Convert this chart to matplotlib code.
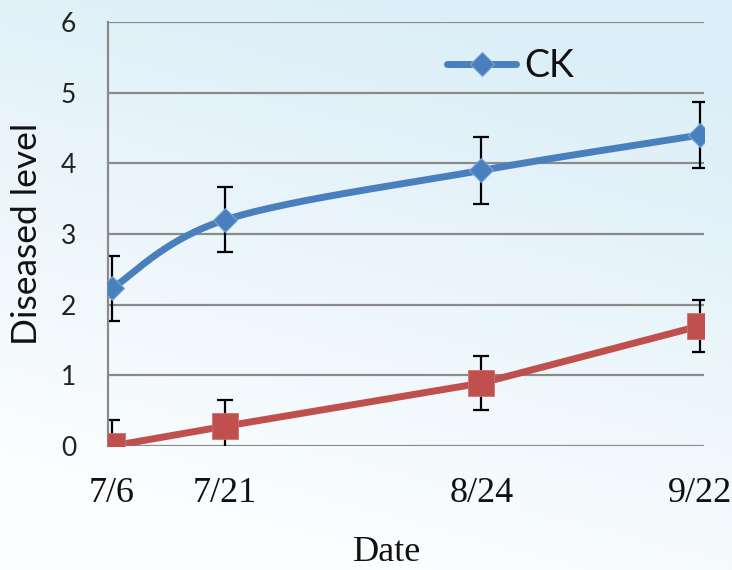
import numpy as np
import pandas as pd
import matplotlib
matplotlib.use("Agg")
import matplotlib.pyplot as plt

# ---- data ----
dates = ["7/6", "7/21", "8/24", "9/22"]
ck_values = [2.23, 3.20, 3.90, 4.40]
ck_errors = [0.46, 0.46, 0.47, 0.47]
trt_values = [0.00, 0.28, 0.89, 1.70]
trt_errors = [0.37, 0.37, 0.38, 0.37]
y_ticks = [0, 1, 2, 3, 4, 5, 6]

# convert dates to day offsets from first date
d = pd.to_datetime(["2020/" + s for s in dates], format="%Y/%m/%d")
x = np.array([(t - d[0]).days for t in d], dtype=float)


def excel_smooth(xs, ys, n=60):
    """Excel-like smoothed line: cubic Bezier segments with Catmull-Rom control points."""
    P = np.column_stack([xs, ys])
    pts = [P[0]] + list(P) + [P[-1]]
    out = []
    for i in range(1, len(pts) - 2):
        p0, p1, p2, p3 = pts[i - 1], pts[i], pts[i + 1], pts[i + 2]
        c1 = p1 + (p2 - p0) / 6.0
        c2 = p2 - (p3 - p1) / 6.0
        t = np.linspace(0, 1, n)[:, None]
        seg = ((1 - t) ** 3) * p1 + 3 * ((1 - t) ** 2) * t * c1 + 3 * (1 - t) * t ** 2 * c2 + t ** 3 * p2
        out.append(seg if i == 1 else seg[1:])
    out = np.vstack(out)
    return out[:, 0], out[:, 1]


W, H = 732, 570
fig = plt.figure(figsize=(W / 100, H / 100), dpi=100)

# background gradient (decorative)
bg = fig.add_axes([0, 0, 1, 1], zorder=-10)
gx, gy = np.meshgrid(np.linspace(0, 1, 200), np.linspace(0, 1, 160))
tval = np.clip(0.35 * gx + 1.0 * (1 - gy) - 0.2, 0, 1)  # top bluish, bottom white
c_white = np.array([0.985, 0.993, 0.998])
c_blue = np.array([0.86, 0.935, 0.97])
img = c_white[None, None, :] * (1 - tval[..., None]) + c_blue[None, None, :] * tval[..., None]
bg.imshow(img, aspect="auto", extent=[0, 1, 0, 1], origin="upper")
bg.set_axis_off()

L, R, B, T = 108, 704, 446, 22
ax = fig.add_axes([L / W, 1 - B / H, (R - L) / W, (B - T) / H])
ax.set_facecolor("none")

blue = "#4a7fbe"
red = "#c0504d"

ax.set_ylim(0, 6)
px_per_day = (700 - 112) / (x[-1] - x[0])
ax.set_xlim(x[0] - (112 - L) / px_per_day, x[-1] + (R - 700) / px_per_day)

for yv in y_ticks:
    ax.axhline(yv, color="#8a8a8a", lw=1.6, zorder=1)

for s in ["top", "right", "bottom"]:
    ax.spines[s].set_visible(False)
ax.spines["left"].set_color("#8a8a8a")
ax.spines["left"].set_linewidth(1.6)

# error bars
ax.errorbar(x, ck_values, yerr=ck_errors, fmt="none", ecolor="black",
            elinewidth=1.6, capsize=5.5, capthick=1.6, zorder=2)
ax.errorbar(x, trt_values, yerr=trt_errors, fmt="none", ecolor="black",
            elinewidth=1.6, capsize=5.5, capthick=1.6, zorder=2)

# CK smoothed
sx, sy = excel_smooth(x, np.array(ck_values))
ax.plot(sx, sy, color=blue, lw=5, solid_capstyle="round", zorder=3)
ax.plot(x, ck_values, ls="none", marker="D", ms=12.5, mfc=blue, mec="#7aa6d8",
        mew=0.8, zorder=4)
# legend proxy
ck_handle, = ax.plot([], [], color=blue, lw=5, marker="D", ms=12.5, mfc=blue,
                     mec="#7aa6d8", mew=0.8, solid_capstyle="round", label="CK")

# treatment
ax.plot(x, trt_values, color=red, lw=5, zorder=3)
ax.plot(x, trt_values, ls="none", marker="s", ms=18.5, mfc=red, mec="#d07070",
        mew=0.6, zorder=4)

ax.set_yticks(y_ticks)
ax.set_yticklabels([str(v) for v in y_ticks], fontfamily="Lato", fontsize=19,
                   color="#222222")
ax.set_xticks(x)
ax.set_xticklabels(dates, fontfamily="Liberation Serif", fontsize=26, color="#111111")
ax.tick_params(axis="y", length=0, pad=23)
ax.tick_params(axis="x", length=0, pad=22)

leg = ax.legend(handles=[ck_handle], loc="center left",
                bbox_to_anchor=((450 - L) / (R - L) - 0.005, (B - 66) / (B - T)),
                frameon=False, prop={"family": "Lato", "size": 27},
                handlelength=1.85, handletextpad=0.2, borderpad=0, borderaxespad=0)
for txt in leg.get_texts():
    txt.set_color("#111111")

fig.text(387 / W, (H - 561) / H, "Date", fontfamily="Liberation Serif", fontsize=26,
         ha="center", va="baseline", color="#111111")
fig.text(27 / W, 1 - 234 / H, "Diseased level", fontfamily="Lato", fontsize=25.5,
         rotation=90, ha="center", va="center", color="#111111")

fig.savefig("out.png", dpi=100)
